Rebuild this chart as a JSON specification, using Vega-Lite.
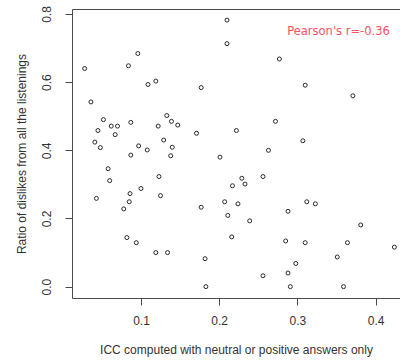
{
  "$schema": "https://vega.github.io/schema/vega-lite/v6.json",
  "width": 328,
  "height": 289,
  "autosize": "none",
  "padding": {"left": 72, "top": 9, "right": 0, "bottom": 66},
  "background": "white",
  "data": {
    "values": [
      {"icc": 0.028, "ratio": 0.640}, {"icc": 0.036, "ratio": 0.542}, {"icc": 0.041, "ratio": 0.424},
      {"icc": 0.045, "ratio": 0.458}, {"icc": 0.048, "ratio": 0.408}, {"icc": 0.052, "ratio": 0.490},
      {"icc": 0.062, "ratio": 0.471}, {"icc": 0.070, "ratio": 0.471}, {"icc": 0.067, "ratio": 0.446},
      {"icc": 0.087, "ratio": 0.482}, {"icc": 0.087, "ratio": 0.386}, {"icc": 0.084, "ratio": 0.648},
      {"icc": 0.096, "ratio": 0.684}, {"icc": 0.097, "ratio": 0.413}, {"icc": 0.108, "ratio": 0.401},
      {"icc": 0.109, "ratio": 0.593}, {"icc": 0.119, "ratio": 0.603}, {"icc": 0.122, "ratio": 0.471},
      {"icc": 0.129, "ratio": 0.430}, {"icc": 0.133, "ratio": 0.502}, {"icc": 0.139, "ratio": 0.485},
      {"icc": 0.140, "ratio": 0.409}, {"icc": 0.138, "ratio": 0.384}, {"icc": 0.147, "ratio": 0.474},
      {"icc": 0.171, "ratio": 0.450}, {"icc": 0.177, "ratio": 0.584}, {"icc": 0.201, "ratio": 0.380},
      {"icc": 0.210, "ratio": 0.782}, {"icc": 0.210, "ratio": 0.713}, {"icc": 0.277, "ratio": 0.668},
      {"icc": 0.310, "ratio": 0.591}, {"icc": 0.371, "ratio": 0.560}, {"icc": 0.272, "ratio": 0.485},
      {"icc": 0.222, "ratio": 0.458}, {"icc": 0.307, "ratio": 0.428}, {"icc": 0.263, "ratio": 0.400},
      {"icc": 0.058, "ratio": 0.346}, {"icc": 0.060, "ratio": 0.311}, {"icc": 0.123, "ratio": 0.323},
      {"icc": 0.043, "ratio": 0.259}, {"icc": 0.086, "ratio": 0.273}, {"icc": 0.085, "ratio": 0.249},
      {"icc": 0.100, "ratio": 0.288}, {"icc": 0.125, "ratio": 0.267}, {"icc": 0.078, "ratio": 0.228},
      {"icc": 0.177, "ratio": 0.233}, {"icc": 0.207, "ratio": 0.249}, {"icc": 0.211, "ratio": 0.209},
      {"icc": 0.217, "ratio": 0.296}, {"icc": 0.216, "ratio": 0.146}, {"icc": 0.082, "ratio": 0.144},
      {"icc": 0.094, "ratio": 0.129}, {"icc": 0.119, "ratio": 0.100}, {"icc": 0.134, "ratio": 0.100},
      {"icc": 0.182, "ratio": 0.082}, {"icc": 0.183, "ratio": 0.000}, {"icc": 0.229, "ratio": 0.318},
      {"icc": 0.233, "ratio": 0.301}, {"icc": 0.256, "ratio": 0.323}, {"icc": 0.224, "ratio": 0.243},
      {"icc": 0.239, "ratio": 0.193}, {"icc": 0.288, "ratio": 0.221}, {"icc": 0.312, "ratio": 0.249},
      {"icc": 0.323, "ratio": 0.243}, {"icc": 0.285, "ratio": 0.134}, {"icc": 0.310, "ratio": 0.129},
      {"icc": 0.364, "ratio": 0.129}, {"icc": 0.381, "ratio": 0.181}, {"icc": 0.424, "ratio": 0.116},
      {"icc": 0.351, "ratio": 0.087}, {"icc": 0.298, "ratio": 0.068}, {"icc": 0.256, "ratio": 0.032},
      {"icc": 0.288, "ratio": 0.040}, {"icc": 0.291, "ratio": 0.000}, {"icc": 0.359, "ratio": 0.000}
    ]
  },
  "layer": [
    {
      "layer": [
        {
          "mark": {"type": "point", "shape": "circle", "filled": false, "size": 16, "stroke": "#2a2a2a", "strokeWidth": 1, "opacity": 1},
          "encoding": {
            "x": {
              "field": "icc", "type": "quantitative",
              "scale": {"domain": [0.0118, 0.4312], "nice": false, "zero": false},
              "axis": {
                "orient": "bottom", "values": [0.1, 0.2, 0.3, 0.4], "format": ".1f",
                "grid": false, "tickSize": 7, "labelPadding": 10,
                "title": "ICC computed with neutral or positive answers only", "titlePadding": 18
              }
            },
            "y": {
              "field": "ratio", "type": "quantitative",
              "scale": {"domain": [-0.0333, 0.8146], "nice": false, "zero": false},
              "axis": {
                "orient": "left", "values": [0, 0.2, 0.4, 0.6, 0.8], "format": ".1f",
                "grid": false, "tickSize": 7, "labelAngle": -90, "labelAlign": "center",
                "labelBaseline": "bottom", "labelPadding": 12,
                "title": "Ratio of dislikes from all the listenings", "titlePadding": 12
              }
            }
          }
        },
        {
          "data": {"values": [{"label": "Pearson's r=-0.36", "icc": 0.3526, "ratio": 0.7457}]},
          "mark": {"type": "text", "font": "DejaVu Sans", "fontSize": 11.5, "fill": "#ff4f5f", "align": "center", "baseline": "middle"},
          "encoding": {
            "x": {"field": "icc", "type": "quantitative"},
            "y": {"field": "ratio", "type": "quantitative"},
            "text": {"field": "label"}
          }
        }
      ]
    },
    {
      "mark": {"type": "point", "opacity": 0},
      "encoding": {
        "x": {
          "field": "icc", "type": "quantitative",
          "axis": {"orient": "top", "labels": false, "ticks": false, "title": null, "grid": false, "domain": true}
        },
        "y": {"field": "ratio", "type": "quantitative"}
      }
    }
  ],
  "resolve": {"axis": {"x": "independent"}},
  "config": {
    "view": {"stroke": null},
    "axis": {
      "domainColor": "#4a4a4a",
      "tickColor": "#4a4a4a",
      "domainWidth": 1,
      "labelFont": "Liberation Sans",
      "labelFontSize": 12,
      "labelColor": "#333333",
      "titleFont": "Liberation Sans",
      "titleFontSize": 12,
      "titleFontWeight": "normal",
      "titleColor": "#333333"
    }
  }
}
